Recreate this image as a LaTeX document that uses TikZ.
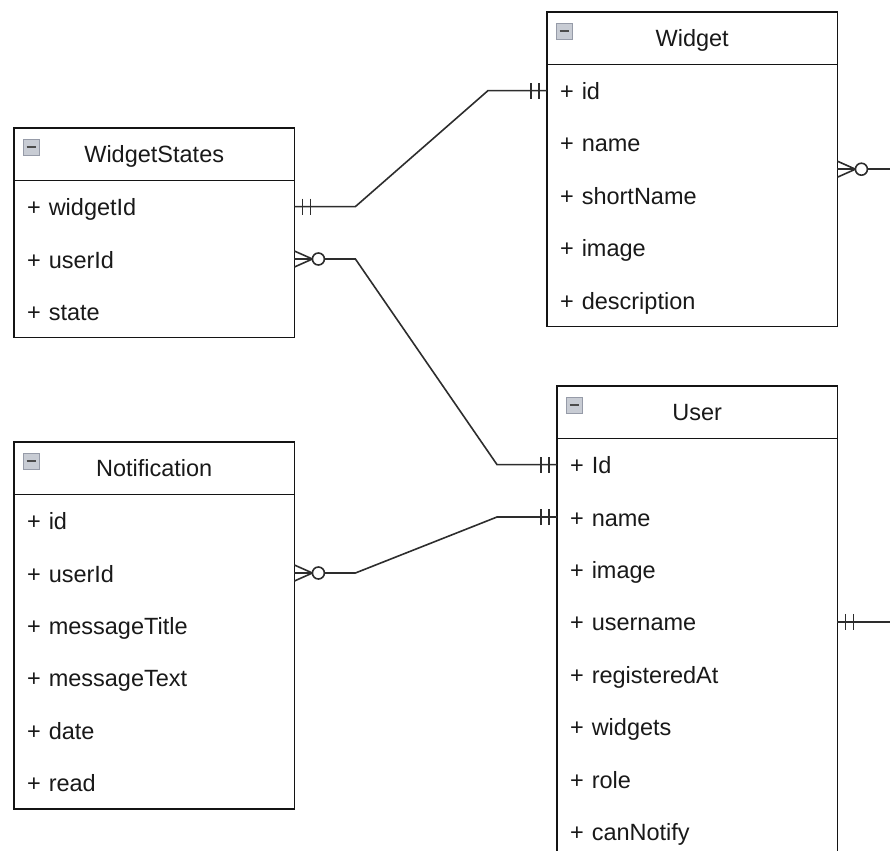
\documentclass[tikz,border=0pt]{standalone}
\usepackage{fontspec}
\setmainfont{Liberation Sans}
\usetikzlibrary{calc,positioning}
\definecolor{erline}{RGB}{20,20,20}
\definecolor{erconn}{RGB}{45,45,45}
\definecolor{ertext}{RGB}{25,25,25}
\definecolor{iconfill}{RGB}{200,204,212}
\definecolor{icondraw}{RGB}{150,155,168}
\tikzset{
    % table header (title box)
    head/.style={
        rectangle, minimum width=#1, minimum height=52pt, inner sep=0pt,
        text height=20pt, text depth=4pt, anchor=north west,
        font=\fontsize{23.5pt}{28pt}\selectfont, text=ertext
    },
    head/.default=280pt,
    % one attribute row
    row/.style={
        rectangle, inner xsep=13pt, inner ysep=0pt,
        text width=#1, minimum height=52pt, align=left,
        text height=22pt, text depth=4pt, anchor=north west,
        font=\fontsize{23.5pt}{28pt}\selectfont, text=ertext
    },
    row/.default=254pt,
    % outline of a table
    tbl/.style={draw=erline, line width=1.5pt},
    % collapse icon in the header
    icon/.style={
        draw=icondraw, fill=iconfill, line width=0.8pt,
        minimum size=16pt, inner sep=0pt,
        path picture={\draw[line width=2.6pt, black!70]
            ([xshift=3.5pt]path picture bounding box.west) --
            ([xshift=-3.5pt]path picture bounding box.east);}
    },
    % relation lines
    conn/.style={draw=erconn, line width=1.6pt},
    % crow's foot ends (drawn pointing along +x from the table edge)
    mandone/.pic={\draw[conn] (8,-8) -- (8,8) (16,-8) -- (16,8);},
    zeromany/.pic={
        \draw[conn] (0,-8) -- (18,0) -- (0,8) (0,0) -- (18,0);
        \draw[conn, fill=white] (24,0) circle (6pt);
    },
}
\begin{document}
\begin{tikzpicture}[x=1pt,y=-1pt]
  \useasboundingbox (0,0) rectangle (890,850);
  \clip (0,0) rectangle (890,850);

  % table: Widget
  \node[head=290pt] (wd) at (547,12) {Widget};
  \node[row=264pt] (wd-id)    at (wd.south west)    {+ id};
  \node[row=264pt] (wd-name)  at (wd-id.south west) {+ name};
  \node[row=264pt] (wd-short) at (wd-name.south west) {+ shortName};
  \node[row=264pt] (wd-image) at (wd-short.south west) {+ image};
  \node[row=264pt] (wd-desc)  at (wd-image.south west) {+ description};
  \draw[tbl] (wd.north west) rectangle (wd-desc.south east)
             (wd.south west) -- (wd.south east);
  \node[icon] (wd-icon) at ([shift={(17,19)}]wd.north west) {};

  % table: WidgetStates
  \node[head] (ws) at (14,128) {WidgetStates};
  \node[row] (ws-widget) at (ws.south west)        {+ widgetId};
  \node[row] (ws-user)   at (ws-widget.south west) {+ userId};
  \node[row] (ws-state)  at (ws-user.south west)   {+ state};
  \draw[tbl] (ws.north west) rectangle (ws-state.south east)
             (ws.south west) -- (ws.south east);
  \node[icon] (ws-icon) at ([shift={(17,19)}]ws.north west) {};

  % table: User
  \node[head] (us) at (557,386) {User};
  \node[row] (us-id)     at (us.south west)       {+ Id};
  \node[row] (us-name)   at (us-id.south west)    {+ name};
  \node[row] (us-image)  at (us-name.south west)  {+ image};
  \node[row] (us-uname)  at (us-image.south west) {+ username};
  \node[row] (us-reg)    at (us-uname.south west) {+ registeredAt};
  \node[row] (us-widget) at (us-reg.south west)   {+ widgets};
  \node[row] (us-role)   at (us-widget.south west) {+ role};
  \node[row] (us-notify) at (us-role.south west)  {+ canNotify};
  \draw[tbl] (us.north west) rectangle (us-notify.south east)
             (us.south west) -- (us.south east);
  \node[icon] (us-icon) at ([shift={(17,19)}]us.north west) {};

  % table: Notification
  \node[head] (nt) at (14,442) {Notification};
  \node[row] (nt-id)    at (nt.south west)       {+ id};
  \node[row] (nt-user)  at (nt-id.south west)    {+ userId};
  \node[row] (nt-title) at (nt-user.south west)  {+ messageTitle};
  \node[row] (nt-text)  at (nt-title.south west) {+ messageText};
  \node[row] (nt-date)  at (nt-text.south west)  {+ date};
  \node[row] (nt-read)  at (nt-date.south west)  {+ read};
  \draw[tbl] (nt.north west) rectangle (nt-read.south east)
             (nt.south west) -- (nt.south east);
  \node[icon] (nt-icon) at ([shift={(17,19)}]nt.north west) {};

  % relations
  \coordinate (wd-out) at ([xshift=80pt]wd-name.south east);
  \coordinate (us-out) at ([xshift=80pt]us-uname.east);
  \draw[conn] (ws-widget.east) -- ++(61,0) -- ([xshift=-59pt]wd-id.west) -- (wd-id.west);
  \draw[conn] (ws-user.east) -- ++(61,0) -- ([xshift=-60pt]us-id.west) -- (us-id.west);
  \draw[conn] (nt-user.east) -- ++(61,0) -- ([xshift=-60pt]us-name.west) -- (us-name.west);
  \draw[conn] (wd-name.south east) -- (wd-out);
  \draw[conn] (us-uname.east) -- (us-out);

  % relation ends
  \pic at (ws-widget.east) {mandone};
  \pic[rotate=180] at (wd-id.west) {mandone};
  \pic at (ws-user.east) {zeromany};
  \pic[rotate=180] at (us-id.west) {mandone};
  \pic at (nt-user.east) {zeromany};
  \pic[rotate=180] at (us-name.west) {mandone};
  \pic at (wd-name.south east) {zeromany};
  \pic at (us-uname.east) {mandone};
\end{tikzpicture}
\end{document}
